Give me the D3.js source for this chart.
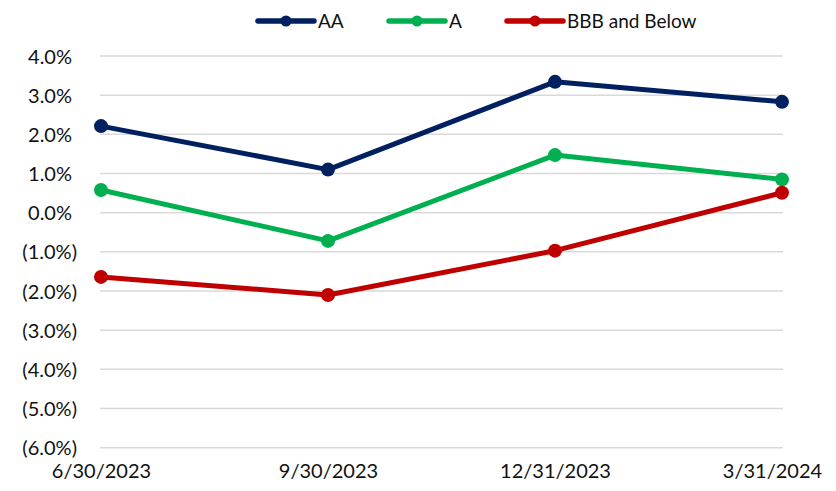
<!DOCTYPE html>
<html>
<head>
<meta charset="utf-8">
<script src="https://cdn.jsdelivr.net/npm/d3@7"></script>
<style>
  body { margin: 0; background: #fff; }
  svg { display: block; font-family: Lato, "Open Sans", sans-serif; }
</style>
</head>
<body>
<div id="chart"></div>
<script>
// Data
const categories = ["6/30/2023", "9/30/2023", "12/31/2023", "3/31/2024"];
const seriesNames = ["AA", "A", "BBB and Below"];
const seriesColors = ["#002060", "#00B050", "#C00000"];
const aaValues = [2.21, 1.10, 3.34, 2.83];
const aValues = [0.58, -0.72, 1.47, 0.85];
const bbbValues = [-1.64, -2.10, -0.97, 0.51];
const yTicks = [4, 3, 2, 1, 0, -1, -2, -3, -4, -5, -6];

const series = [aaValues, aValues, bbbValues].map((values, i) => ({
    name: seriesNames[i],
    color: seriesColors[i],
    values: values
}));

const width = 836, height = 491;
const plot = { left: 101, right: 782, top: 56, bottom: 447.7 };

const svg = d3.select("#chart")
    .append("svg")
    .attr("width", width)
    .attr("height", height);

// Scales
const x = d3.scalePoint()
    .domain(categories)
    .range([plot.left, plot.right]);

const y = d3.scaleLinear()
    .domain([-6, 4])
    .range([plot.bottom, plot.top]);

const fmt = v => {
    const s = Math.abs(v).toFixed(1) + "%";
    return v < 0 ? "(" + s + ")" : s;
};

// Gridlines
svg.append("g")
    .selectAll("line")
    .data(yTicks)
    .join("line")
    .attr("x1", plot.left - 1)
    .attr("x2", plot.right + 1)
    .attr("y1", d => y(d))
    .attr("y2", d => y(d))
    .attr("stroke", "#d9d9d9")
    .attr("stroke-width", 1.5);

// Y axis labels
const yAxis = svg.append("g")
    .attr("transform", "translate(77,0)")
    .call(d3.axisLeft(y).tickValues(yTicks).tickFormat(fmt).tickSize(0).tickPadding(0));
yAxis.select(".domain").remove();
yAxis.selectAll("text")
    .attr("font-family", "Lato, sans-serif")
    .attr("font-size", 20)
    .attr("fill", "#111")
    .attr("dx", d => d >= 0 ? -5 : 0)
    .attr("dy", "0.35em");

// X axis labels
const xAxis = svg.append("g")
    .attr("transform", "translate(0,463)")
    .call(d3.axisBottom(x).tickSize(0).tickPadding(0));
xAxis.select(".domain").remove();
xAxis.selectAll("text")
    .attr("font-family", "Lato, sans-serif")
    .attr("font-size", 20)
    .attr("fill", "#111")
    .attr("dy", "0.75em")
    .attr("dx", (d, i) => i === categories.length - 1 ? -10 : 0);

// Lines
const line = d3.line()
    .x((d, i) => x(categories[i]))
    .y(d => y(d));

const groups = svg.append("g")
    .selectAll("g")
    .data(series)
    .join("g");

groups.append("path")
    .attr("d", d => line(d.values))
    .attr("fill", "none")
    .attr("stroke", d => d.color)
    .attr("stroke-width", 5)
    .attr("stroke-linejoin", "round");

groups.selectAll("circle")
    .data(d => d.values.map((v, i) => ({ v, i, color: d.color })))
    .join("circle")
    .attr("cx", d => x(categories[d.i]))
    .attr("cy", d => y(d.v))
    .attr("r", 7)
    .attr("fill", d => d.color);

// Legend
const legendX = [258, 389, 507];
const legend = svg.append("g")
    .selectAll("g")
    .data(series)
    .join("g")
    .attr("transform", (d, i) => `translate(${legendX[i]},21)`);

legend.append("line")
    .attr("x1", 0)
    .attr("x2", 56)
    .attr("stroke", d => d.color)
    .attr("stroke-width", 5.5)
    .attr("stroke-linecap", "round");

legend.append("circle")
    .attr("cx", 28)
    .attr("r", 5.5)
    .attr("fill", d => d.color);

legend.append("text")
    .attr("x", 60)
    .attr("dy", "0.35em")
    .attr("font-size", 19)
    .attr("fill", "#111")
    .text(d => d.name);
</script>
</body>
</html>
